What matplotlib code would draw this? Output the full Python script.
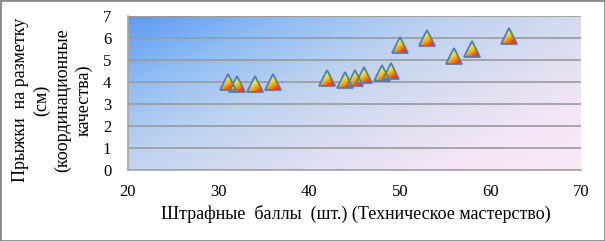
import numpy as np
import matplotlib
matplotlib.use('Agg')
import matplotlib.pyplot as plt
from matplotlib.colors import LinearSegmentedColormap
from matplotlib.patches import Polygon, Rectangle

# penalty points (x) vs. jump results (y)
penalty = [31, 32, 34, 36, 42, 44, 45, 46, 48, 49, 50, 53, 56, 58, 62]
jumps = [4.0, 3.9, 3.9, 4.0, 4.2, 4.1, 4.2, 4.3, 4.4, 4.5, 5.7, 6.0, 5.2, 5.5, 6.1]

x_ticks = [20, 30, 40, 50, 60, 70]
y_ticks = [0, 1, 2, 3, 4, 5, 6, 7]

x_title = 'Штрафные  баллы  (шт.) (Техническое мастерство)'
y_title = 'Прыжки  на разметку\n(см)\n(координационные\nкачества)'

plt.rcParams['font.family'] = ['Liberation Serif', 'DejaVu Serif']

fig = plt.figure(figsize=(6.05, 2.41), dpi=100)
ax = fig.add_axes([128 / 605, 71 / 241, 453 / 605, 154 / 241])
ax.set_xlim(x_ticks[0], x_ticks[-1])
ax.set_ylim(y_ticks[0], y_ticks[-1])

# plot area background gradient (blue top-left -> pink bottom-right)
bg_cmap = LinearSegmentedColormap.from_list(
    'bg', ['#5c9af3', '#8fbdf4', '#bcd2ef', '#d9dcf0', '#f2e5f5', '#fbe9f7'])
gx, gy = np.meshgrid(np.linspace(0, 1, 300), np.linspace(1, 0, 120))
ax.imshow(0.55 * gx + 0.45 * (1 - gy), cmap=bg_cmap, aspect='auto',
          extent=[x_ticks[0], x_ticks[-1], y_ticks[0], y_ticks[-1]],
          origin='upper', zorder=0, interpolation='bilinear')

ax.set_xticks(x_ticks)
ax.set_yticks(y_ticks)
ax.tick_params(length=0, labelsize=12, colors='black')
ax.tick_params(axis='x', pad=10)
ax.tick_params(axis='y', pad=12)
ax.grid(axis='y', color='#9a9a9a', linewidth=1.2, zorder=1)
for side in ['top', 'right']:
    ax.spines[side].set_visible(False)
for side in ['left', 'bottom']:
    ax.spines[side].set_color('#a6a6a6')
    ax.spines[side].set_linewidth(1.2)

# rainbow gradient triangles
ms = 12
mk_cmap = LinearSegmentedColormap.from_list(
    'mk', ['#1f9a3a', '#9ccc2a', '#ffee00', '#ffa500', '#ff3c14', '#e8106a'])
tx, ty = np.meshgrid(np.linspace(0, 1, 40), np.linspace(0, 1, 40))
grad = 0.4 * tx + 0.6 * ty
inv = ax.transData.inverted()
half = ms * fig.dpi / 72 / 2
for x, y in zip(penalty, jumps):
    cx, cy = ax.transData.transform((x, y))
    verts = inv.transform([(cx, cy + half), (cx - half, cy - half),
                           (cx + half, cy - half)])
    tri = Polygon(verts, closed=True, transform=ax.transData,
                  facecolor='none', edgecolor='none')
    ax.add_patch(tri)
    im = ax.imshow(grad, cmap=mk_cmap, aspect='auto', origin='upper',
                   extent=[verts[1][0], verts[2][0], verts[1][1], verts[0][1]],
                   zorder=3)
    im.set_clip_path(tri)
ax.plot(penalty, jumps, linestyle='none', marker='^', markersize=ms,
        markerfacecolor='none', markeredgecolor='#4a7fc0',
        markeredgewidth=1.3, zorder=4)

ax.set_xlim(x_ticks[0], x_ticks[-1])
ax.set_ylim(y_ticks[0], y_ticks[-1])

fig.text(356 / 605, 27 / 241, x_title, ha='center', va='center', fontsize=13)
fig.text(52 / 605, 141 / 241, y_title, ha='center', va='center',
         rotation=90, fontsize=13, multialignment='center', linespacing=1.3)

fig.patches.append(Rectangle((0, 0), 1, 1, transform=fig.transFigure,
                             fill=False, edgecolor='#8a8a8a', linewidth=2))

fig.savefig('out.png', dpi=100)
